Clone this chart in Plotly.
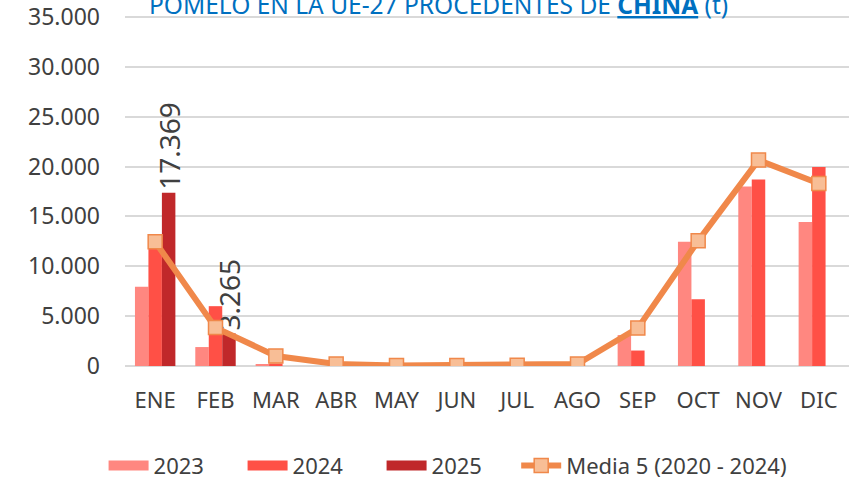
import plotly.graph_objects as go

# Monthly grapefruit imports (tonnes)
months = ["ENE", "FEB", "MAR", "ABR", "MAY", "JUN", "JUL", "AGO", "SEP", "OCT", "NOV", "DIC"]
vals_2023 = [7950, 1900, 150, 0, 0, 0, 0, 0, 3100, 12450, 18000, 14450]
vals_2024 = [12600, 6000, 250, 0, 0, 0, 0, 0, 1550, 6700, 18700, 19950]
vals_2025 = [17369, 3265, None, None, None, None, None, None, None, None, None, None]
media_5 = [12450, 3850, 1000, 200, 60, 60, 70, 200, 3800, 12550, 20650, 18300]
labels_2025 = ["17.369", "3.265", "", "", "", "", "", "", "", "", "", ""]

ytick_vals = [0, 5000, 10000, 15000, 20000, 25000, 30000, 35000]
ytick_text = ["0", "5.000", "10.000", "15.000", "20.000", "25.000", "30.000", "35.000"]

FONT = "Noto Sans"
TXT = "#404040"
C23, C24, C25 = "#FF8780", "#FF5046", "#C0282A"
ORANGE, ORANGE_FILL = "#F0884A", "#F8BE96"

fig = go.Figure()
fig.add_trace(go.Bar(x=months, y=vals_2023, name="2023", marker_color=C23,
                     marker_line_width=0, showlegend=False))
fig.add_trace(go.Bar(x=months, y=vals_2024, name="2024", marker_color=C24,
                     marker_line_width=0, showlegend=False))
fig.add_trace(go.Bar(x=months, y=vals_2025, name="2025", marker_color=C25,
                     marker_line_width=0, showlegend=False,
                     text=labels_2025, textposition="outside",
                     textangle=-90, constraintext="none", cliponaxis=False,
                     textfont=dict(family=FONT, size=28, color=TXT)))

# Wide rectangular legend swatches for the bar series
for name, col in (("2023", C23), ("2024", C24), ("2025", C25)):
    fig.add_trace(go.Scatter(x=[None], y=[None], name=name, mode="lines",
                             line=dict(color=col, width=16), legend="legend"))

fig.add_trace(go.Scatter(x=months, y=media_5, name="Media 5 (2020 - 2024)",
                         mode="lines+markers", legend="legend2",
                         line=dict(color=ORANGE, width=6),
                         marker=dict(symbol="square", size=14, color=ORANGE_FILL,
                                     line=dict(color=ORANGE, width=1.5))))

fig.add_annotation(
    text="POMELO EN LA UE-27 PROCEDENTES DE <b><u>CHINA</u></b> (t)",
    xref="paper", yref="paper", x=0.03, y=1.03, xanchor="left", yanchor="middle",
    showarrow=False, font=dict(family=FONT, size=24.5, color="#0070C0"))

legend_common = dict(orientation="h", xref="container", xanchor="left",
                     y=0.03, yref="container", yanchor="middle",
                     font=dict(family=FONT, size=22, color=TXT),
                     itemwidth=40, traceorder="normal", bgcolor="rgba(0,0,0,0)")

fig.update_layout(
    width=849, height=480,
    margin=dict(l=125, r=0, t=15, b=114, autoexpand=False),
    paper_bgcolor="white", plot_bgcolor="white",
    barmode="group", bargap=0.33, bargroupgap=0,
    font=dict(family=FONT, color=TXT, size=23),
    showlegend=True,
    legend=dict(x=0.122, entrywidth=84, **legend_common),
    legend2=dict(x=0.608, **legend_common),
)
fig.update_xaxes(range=[-0.5, 11.5], automargin=False, showgrid=False, showline=False,
                 ticks="", ticklabelstandoff=19, tickfont=dict(size=22, color=TXT))
fig.update_yaxes(range=[0, 35200], tickvals=ytick_vals, ticktext=ytick_text,
                 automargin=False,
                 showgrid=True, gridcolor="#D9D9D9", gridwidth=2,
                 zeroline=True, zerolinecolor="#D9D9D9", zerolinewidth=2,
                 showline=False, ticks="", ticklabelstandoff=24,
                 tickfont=dict(size=23, color=TXT))

fig.write_html("out.html")
